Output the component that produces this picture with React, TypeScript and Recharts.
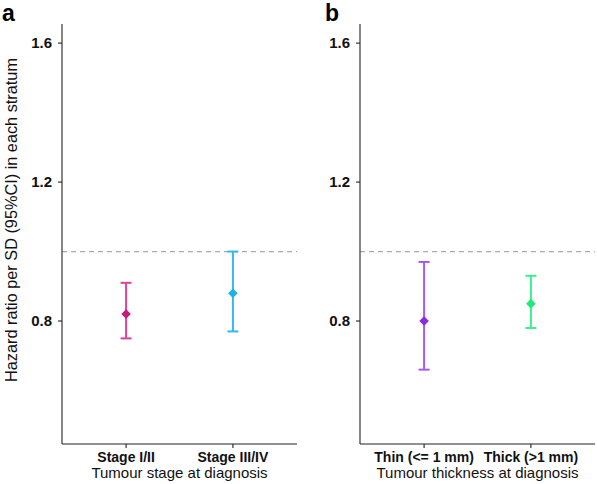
import React from 'react';
import {
  ComposedChart,
  Scatter,
  ErrorBar,
  XAxis,
  YAxis,
  ReferenceLine,
  Label,
  Customized,
} from 'recharts';

// ---- data ----
const stageCategories = ['Stage I/II', 'Stage III/IV'];
const stageHR = [0.82, 0.88];
const stageLower = [0.75, 0.77];
const stageUpper = [0.91, 1.0];
const stageColors = ['#C51B7D', '#1DB1E6'];
const stageBarColors = ['#D6449C', '#33B9EA'];

const thickCategories = ['Thin (<= 1 mm)', 'Thick (>1 mm)'];
const thickHR = [0.8, 0.85];
const thickLower = [0.66, 0.78];
const thickUpper = [0.97, 0.93];
const thickColors = ['#8A2BE2', '#1FEA78'];
const thickBarColors = ['#A55AF2', '#3DF08C'];

const yTicks = [0.8, 1.2, 1.6];
const yDomain = [0.446, 1.655];
const referenceValue = 1.0;

const stageTitle = 'Tumour stage at diagnosis';
const thickTitle = 'Tumour thickness at diagnosis';
const yTitle = 'Hazard ratio per SD (95%CI) in each stratum';

const FONT = '"Liberation Sans", Arial, Helvetica, sans-serif';
const AXIS = '#222';

const buildRows = (hr: number[], lo: number[], hi: number[]) =>
  hr.map((v, i) => ({ x: i + 1, hr: v, err: [v - lo[i], hi[i] - v] }));

const Diamond = (color: string) => (props: any) => {
  const { cx, cy } = props;
  if (cx == null || cy == null) return null;
  const r = 4.8;
  return (
    <polygon
      points={`${cx},${cy - r} ${cx + r},${cy} ${cx},${cy + r} ${cx - r},${cy}`}
      fill={color}
    />
  );
};

type PanelProps = {
  left: number;
  width: number;
  yAxisWidth: number;
  marginRight: number;
  categories: string[];
  hr: number[];
  lo: number[];
  hi: number[];
  colors: string[];
  barColors: string[];
  title: string;
  letter: string;
  letterX: number;
  showYTitle: boolean;
};

const Panel = (p: PanelProps) => {
  const rows = buildRows(p.hr, p.lo, p.hi);
  return (
    <div style={{ position: 'absolute', left: p.left, top: 0 }}>
      <ComposedChart
        width={p.width}
        height={484}
        margin={{ top: 24, right: p.marginRight, bottom: 0, left: 0 }}
      >
        <XAxis
          type="number"
          dataKey="x"
          domain={[0.4, 2.6]}
          ticks={[1, 2]}
          tickFormatter={(v: number) => p.categories[v - 1] ?? ''}
          height={40}
          tickSize={4}
          tickMargin={4}
          interval={0}
          axisLine={{ stroke: AXIS, strokeWidth: 1.1 }}
          tickLine={{ stroke: AXIS, strokeWidth: 1.1 }}
          tick={{ fill: '#111', fontSize: 14, fontWeight: 'bold' }}
          allowDataOverflow
        >
          <Label
            value={p.title}
            position="insideBottom"
            offset={6}
            fill="#111"
            fontSize={15}
          />
        </XAxis>
        <YAxis
          type="number"
          domain={yDomain}
          ticks={yTicks}
          allowDataOverflow
          width={p.yAxisWidth}
          tickSize={4}
          tickMargin={6}
          tickFormatter={(v: number) => v.toFixed(1)}
          axisLine={{ stroke: AXIS, strokeWidth: 1.1 }}
          tickLine={{ stroke: AXIS, strokeWidth: 1.1 }}
          tick={{ fill: '#111', fontSize: 15, fontWeight: 'bold' }}
        />
        <ReferenceLine
          y={referenceValue}
          stroke="#AAAAAA"
          strokeWidth={1.2}
          strokeDasharray="5 4"
        />
        {rows.map((row, i) => (
          <Scatter
            key={i}
            data={[row]}
            dataKey="hr"
            isAnimationActive={false}
            shape={Diamond(p.colors[i])}
          >
            <ErrorBar
              dataKey="err"
              direction="y"
              width={5.5}
              strokeWidth={2}
              stroke={p.barColors[i]}
              isAnimationActive={false}
            />
          </Scatter>
        ))}
        <Customized
          component={() => (
            <g>
              <text
                x={p.letterX}
                y={21}
                fontSize={23}
                fontWeight="bold"
                fill="#000"
                fontFamily={FONT}
              >
                {p.letter}
              </text>
              {p.showYTitle && (
                <text
                  transform="translate(10.8,220) rotate(-90)"
                  textAnchor="middle"
                  dy="0.355em"
                  fontSize={16.3}
                  fill="#111"
                  fontFamily={FONT}
                >
                  {yTitle}
                </text>
              )}
            </g>
          )}
        />
      </ComposedChart>
    </div>
  );
}

export default function App() {
  return (
    <div
      style={{
        position: 'absolute',
        left: 0,
        top: 0,
        width: 597,
        height: 484,
        background: '#fff',
        fontFamily: FONT,
      }}
    >
      <Panel
        left={0}
        width={300}
        yAxisWidth={62}
        marginRight={3}
        categories={stageCategories}
        hr={stageHR}
        lo={stageLower}
        hi={stageUpper}
        colors={stageColors}
        barColors={stageBarColors}
        title={stageTitle}
        letter="a"
        letterX={2}
        showYTitle
      />
      <Panel
        left={297}
        width={300}
        yAxisWidth={63}
        marginRight={2}
        categories={thickCategories}
        hr={thickHR}
        lo={thickLower}
        hi={thickUpper}
        colors={thickColors}
        barColors={thickBarColors}
        title={thickTitle}
        letter="b"
        letterX={28}
        showYTitle={false}
      />
    </div>
  );
}
